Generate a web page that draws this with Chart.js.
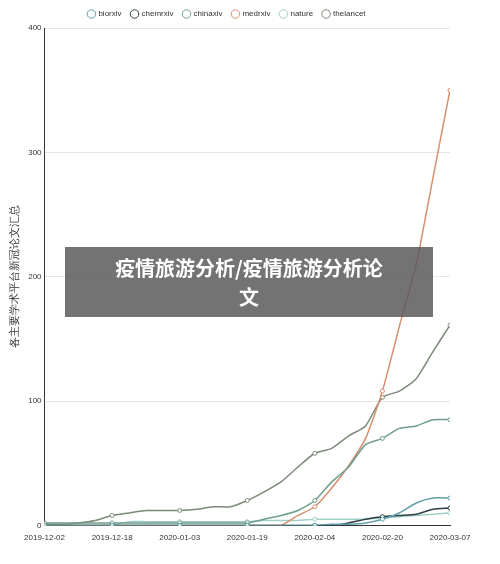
<!DOCTYPE html><html><head><meta charset="utf-8">
<script src="https://cdn.jsdelivr.net/npm/chart.js@4"></script>
<style>body{margin:0;background:#fff;font-family:"Noto Sans CJK SC",sans-serif}#w{position:relative;width:500px;height:564px}
#o{position:absolute;left:65px;top:247px;width:368px;height:70px;background:rgba(90,90,90,0.85);color:#fff;font-size:20px;font-weight:bold;text-align:center;line-height:29px;padding-top:6px;box-sizing:border-box}</style></head><body>
<div id="w"><canvas id="c" width="500" height="564"></canvas><div id="o">疫情旅游分析/疫情旅游分析论<br>文</div></div>
<script>
const start=new Date(Date.UTC(2019,11,2));
const days=[0,4,8,12,16,20,24,28,32,36,40,44,48,52,56,60,64,68,72,76,80,84,88,92,96];
const thelancet=[1,1,2,4,8,10,12,12,12,13,15,15,20,27,35,47,58,62,72,80,103,108,118,140,161];
const medrxiv=[0,0,0,0,0,0,0,0,0,0,0,0,0,0,0,8,15,30,48,70,108,160,210,280,350];
const chinaxiv=[2,2,2,2,2,2,2,2,2,2,2,2,2,5,8,12,20,35,47,65,70,78,80,85,85];
const biorxiv=[0,0,0,0,0,0,0,0,0,0,0,0,0,0,0,0,0,1,1,2,5,10,18,22,22];
const chemrxiv=[0,0,0,0,0,0,0,0,0,0,0,0,0,0,0,0,0,0,2,5,7,8,9,13,14];
const nature=[0,0,0,0,0,3,3,3,3,3,3,3,3,4,4,4,5,5,5,5,6,7,8,9,10];
const tickDays=[0,16,32,48,64,80,96];
function ds(label,vals,color){return{label,data:days.map((d,i)=>({x:d,y:vals[i]})),borderColor:color,backgroundColor:'#fff',borderWidth:1.5,tension:0.2,
pointRadius:c=>tickDays.includes(c.raw&&c.raw.x)?2:0,pointBorderWidth:1,pointBorderColor:color};}
function fmt(d){const t=new Date(start.getTime()+d*86400000);return t.toISOString().slice(0,10);}
new Chart(document.getElementById('c'),{type:'line',data:{datasets:[
ds('biorxiv',biorxiv,'#5f9ea8'),ds('chemrxiv',chemrxiv,'#2f3f45'),ds('chinaxiv',chinaxiv,'#6f9f8c'),
ds('medrxiv',medrxiv,'#d4906f'),ds('nature',nature,'#9fd0c8'),ds('thelancet',thelancet,'#7c8a78')]},
options:{responsive:false,animation:false,layout:{padding:{right:50,left:4,bottom:18}},
plugins:{legend:{labels:{usePointStyle:true,pointStyle:'circle',boxWidth:6,boxHeight:6,font:{size:8},color:'#333',padding:10}},tooltip:{enabled:false}},
scales:{x:{type:'linear',min:0,max:96,afterBuildTicks:a=>{a.ticks=tickDays.map(v=>({value:v}))},
ticks:{callback:v=>fmt(v),maxRotation:0,font:{size:8},color:'#333'},grid:{display:false,drawTicks:true,tickLength:5},border:{color:'#333'}},
y:{min:0,max:400,ticks:{stepSize:100,font:{size:8},color:'#333'},grid:{color:'#e6e6e6',drawTicks:false},border:{color:'#333'},
title:{display:true,text:'各主要学术平台新冠论文汇总',font:{size:11},color:'#333'}}}}});
</script></body></html>
